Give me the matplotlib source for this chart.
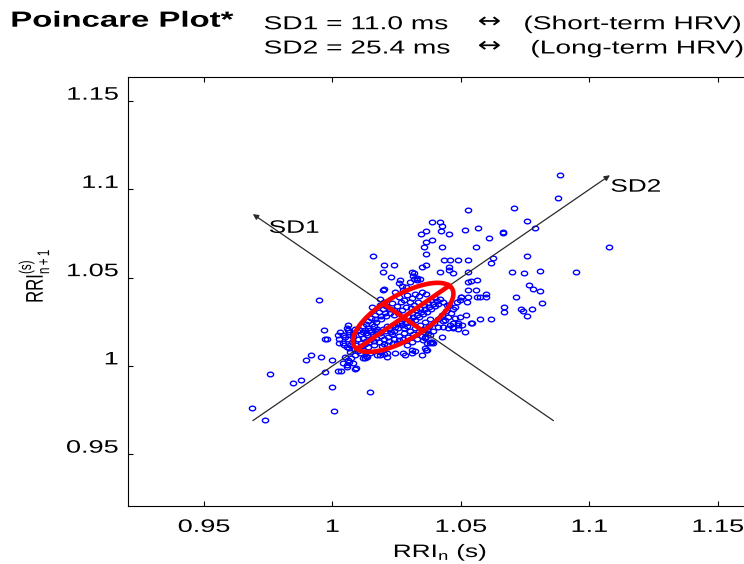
import numpy as np
import matplotlib
matplotlib.use("Agg")
import matplotlib.pyplot as plt
from matplotlib.patheffects import AbstractPathEffect
from matplotlib.transforms import Affine2D
from matplotlib.path import Path

plt.rcParams['font.family'] = ['Liberation Sans', 'DejaVu Sans']
plt.rcParams['mathtext.default'] = 'regular'

# ---------------- data (RRI_n, RRI_n+1) in seconds ----------------
points_outer = [
    (1.0886, 1.1082), (1.0877, 1.0951), (1.0526, 1.0882), (1.0708, 1.0893), (1.0758, 1.0821),
    (1.0787, 1.0781), (1.0665, 1.0761), (1.0665, 1.0753), (1.0567, 1.0781), (1.0517, 1.0772),
    (1.0609, 1.0723), (1.0387, 1.0814), (1.0419, 1.0814), (1.0427, 1.0795), (1.0422, 1.0763),
    (1.0455, 1.0746), (1.0363, 1.0763), (1.0345, 1.0746), (1.0387, 1.0712), (1.0363, 1.0700),
    (1.0357, 1.0674), (1.0428, 1.0674), (1.0557, 1.0674), (1.0363, 1.0632), (1.0158, 1.0623),
    (1.0436, 1.0602), (1.0489, 1.0602), (1.0527, 1.0602), (1.0626, 1.0612), (1.0617, 1.0583),
    (1.0758, 1.0623), (1.1077, 1.0672), (1.0948, 1.0532), (1.0698, 1.0532), (1.0746, 1.0525),
    (1.0808, 1.0540), (1.0202, 1.0574), (1.0240, 1.0574), (1.0363, 1.0574), (1.0348, 1.0561),
    (1.0455, 1.0561), (1.0455, 1.0544), (1.0419, 1.0532), (1.0468, 1.0525), (1.0527, 1.0532),
    (1.0195, 1.0532), (1.0317, 1.0525), (1.0310, 1.0532), (1.0314, 1.0512), (1.0229, 1.0504),
    (1.0263, 1.0487), (1.0302, 1.0477), (1.0317, 1.0493), (1.0329, 1.0487), (1.0330, 1.0496),
    (1.0340, 1.0494), (1.0260, 1.0471), (1.0271, 1.0453), (1.0286, 1.0449), (1.0527, 1.0476),
    (1.0540, 1.0483), (1.0766, 1.0460), (1.0781, 1.0438), (1.0809, 1.0425), (1.0527, 1.0430),
    (1.0558, 1.0430), (1.0499, 1.0391), (1.0596, 1.0406), (1.0599, 1.0389), (1.0573, 1.0389),
    (1.0502, 1.0389), (1.0716, 1.0391), (1.0817, 1.0355), (1.0778, 1.0323), (1.0734, 1.0323),
    (1.0742, 1.0313), (1.0758, 1.0285), (1.0667, 1.0334), (1.0667, 1.0306), (1.0618, 1.0264),
    (1.0575, 1.0264), (1.0518, 1.0291), (1.0476, 1.0272), (1.0538, 1.0242), (1.0487, 1.0242),
    (1.0468, 1.0223), (1.0490, 1.0208), (1.0515, 1.0193), (1.0425, 1.0162), (1.0365, 1.0092),
    (1.0382, 1.0134), (1.0432, 1.0364), (1.0444, 1.0345), (1.0483, 1.0364), (1.0522, 1.0364),
    (1.0477, 1.0336), (1.0542, 1.0242), (1.0437, 1.0260), (1.0431, 1.0222), (1.0457, 1.0232),
    (1.0470, 1.0242), (1.0489, 1.0232), (1.0503, 1.0232), (1.0451, 1.0213), (1.0470, 1.0213),
    (1.0496, 1.0279), (1.0496, 1.0374), (1.0528, 1.0392), (1.0561, 1.0392), (1.0457, 1.0600),
    (1.0561, 1.0487), (1.0200, 1.0434), (1.0185, 1.0377), (1.0155, 1.0336), (1.0195, 1.0430),
]

points_left = [
    (0.9949, 1.0374), (0.9967, 1.0204), (0.9970, 1.0155), (0.9978, 1.0155), (1.0021, 1.0175),
    (1.0027, 1.0151), (1.0026, 1.0132), (1.0029, 1.0194), (1.0042, 1.0175), (1.0061, 1.0232),
    (1.0055, 1.0213), (1.0061, 1.0204), (1.0042, 1.0128), (0.9918, 1.0062), (0.9957, 1.0053),
    (0.9898, 1.0032), (0.9998, 1.0032), (0.9969, 0.9964), (0.9757, 0.9953), (0.9878, 0.9920),
    (0.9848, 0.9902), (0.9998, 0.9883), (1.0145, 0.9853), (0.9687, 0.9764), (0.9739, 0.9694),
    (1.0007, 0.9745), (1.0023, 0.9972), (1.0035, 0.9972), (1.0057, 1.0005), (1.0065, 1.0024),
    (1.0087, 0.9983), (1.0119, 1.0043), (1.0131, 1.0057), (1.0185, 1.0062), (1.0201, 1.0066),
    (1.0243, 1.0075), (1.0282, 1.0064), (1.0310, 1.0071), (1.0321, 1.0083), (1.0055, 1.0109),
    (1.0068, 1.0081), (1.0048, 1.0053), (1.0074, 1.0044), (1.0081, 1.0015), (1.0061, 1.0034),
    (1.0042, 1.0015), (1.0055, 0.9996), (1.0091, 0.9987), (1.0126, 1.0044), (1.0146, 1.0072),
    (1.0087, 1.0062), (1.0107, 1.0072), (1.0133, 1.0053), (1.0172, 1.0062), (1.0211, 1.0053),
    (1.0275, 1.0072), (1.0308, 1.0091), (1.0347, 1.0062), (1.0367, 1.0091), (1.0386, 1.0138),
    (1.0360, 1.0157), (1.0360, 1.0100), (1.0367, 1.0132), (1.0353, 1.0147), (1.0379, 1.0132),
    (1.0392, 1.0132), (1.0360, 1.0166), (1.0379, 1.0175), (1.0367, 1.0204), (1.0184, 1.0081),
    (1.0211, 1.0072),
]

points_core = [
    (1.0095, 1.0195), (1.0110, 1.0180), (1.0080, 1.0165), (1.0100, 1.0150), (1.0120, 1.0160),
    (1.0135, 1.0175), (1.0150, 1.0190), (1.0125, 1.0205), (1.0140, 1.0215), (1.0160, 1.0225),
    (1.0175, 1.0210), (1.0165, 1.0195), (1.0185, 1.0185), (1.0190, 1.0170), (1.0170, 1.0160),
    (1.0150, 1.0150), (1.0130, 1.0140), (1.0110, 1.0130), (1.0090, 1.0120), (1.0075, 1.0135),
    (1.0060, 1.0150), (1.0050, 1.0165), (1.0045, 1.0120), (1.0065, 1.0100), (1.0085, 1.0095),
    (1.0100, 1.0085), (1.0120, 1.0090), (1.0140, 1.0105), (1.0160, 1.0120), (1.0180, 1.0135),
    (1.0200, 1.0150), (1.0215, 1.0165), (1.0230, 1.0180), (1.0205, 1.0195), (1.0220, 1.0210),
    (1.0240, 1.0200), (1.0255, 1.0215), (1.0235, 1.0230), (1.0250, 1.0240), (1.0270, 1.0230),
    (1.0285, 1.0245), (1.0265, 1.0255), (1.0280, 1.0265), (1.0300, 1.0260), (1.0315, 1.0275),
    (1.0295, 1.0285), (1.0310, 1.0300), (1.0330, 1.0290), (1.0345, 1.0305), (1.0325, 1.0315),
    (1.0340, 1.0325), (1.0360, 1.0320), (1.0375, 1.0335), (1.0355, 1.0345), (1.0370, 1.0355),
    (1.0390, 1.0350), (1.0405, 1.0365), (1.0385, 1.0375), (1.0400, 1.0385), (1.0420, 1.0380),
    (1.0150, 1.0270), (1.0165, 1.0290), (1.0180, 1.0305), (1.0195, 1.0320), (1.0170, 1.0250),
    (1.0190, 1.0265), (1.0210, 1.0280), (1.0225, 1.0300), (1.0240, 1.0315), (1.0210, 1.0340),
    (1.0230, 1.0355), (1.0250, 1.0340), (1.0265, 1.0360), (1.0280, 1.0375), (1.0260, 1.0390),
    (1.0290, 1.0400), (1.0310, 1.0385), (1.0300, 1.0360), (1.0320, 1.0410), (1.0335, 1.0395),
    (1.0350, 1.0420), (1.0365, 1.0405), (1.0245, 1.0420), (1.0275, 1.0430), (1.0200, 1.0360),
    (1.0185, 1.0345), (1.0130, 1.0240), (1.0140, 1.0255), (1.0120, 1.0225), (1.0155, 1.0240),
    (1.0200, 1.0125), (1.0220, 1.0140), (1.0240, 1.0155), (1.0260, 1.0170), (1.0280, 1.0185),
    (1.0300, 1.0200), (1.0320, 1.0215), (1.0340, 1.0230), (1.0360, 1.0250), (1.0380, 1.0265),
    (1.0250, 1.0130), (1.0275, 1.0150), (1.0295, 1.0165), (1.0315, 1.0180), (1.0335, 1.0195),
    (1.0355, 1.0210), (1.0375, 1.0225), (1.0395, 1.0245), (1.0410, 1.0265), (1.0425, 1.0290),
    (1.0440, 1.0310), (1.0430, 1.0255), (1.0450, 1.0275), (1.0460, 1.0300), (1.0470, 1.0325),
    (1.0455, 1.0345), (1.0290, 1.0120), (1.0310, 1.0135), (1.0330, 1.0150), (1.0350, 1.0170),
    (1.0370, 1.0185), (1.0390, 1.0200), (1.0410, 1.0220),
    (1.0105, 1.0205), (1.0118, 1.0192), (1.0132, 1.0188), (1.0146, 1.0202), (1.0158, 1.0178),
    (1.0178, 1.0196), (1.0196, 1.0208), (1.0212, 1.0226), (1.0226, 1.0192), (1.0244, 1.0218),
    (1.0262, 1.0242), (1.0278, 1.0212), (1.0292, 1.0228), (1.0306, 1.0248), (1.0322, 1.0262),
    (1.0338, 1.0278), (1.0352, 1.0292), (1.0366, 1.0308), (1.0382, 1.0322), (1.0398, 1.0338),
    (1.0412, 1.0352), (1.0166, 1.0268), (1.0188, 1.0284), (1.0204, 1.0302), (1.0222, 1.0322),
    (1.0238, 1.0288), (1.0256, 1.0302), (1.0272, 1.0318), (1.0288, 1.0336), (1.0304, 1.0328),
    (1.0318, 1.0346), (1.0334, 1.0362), (1.0112, 1.0112), (1.0128, 1.0124), (1.0144, 1.0134),
    (1.0162, 1.0142), (1.0192, 1.0112), (1.0214, 1.0118), (1.0236, 1.0132), (1.0258, 1.0148),
    (1.0078, 1.0182), (1.0066, 1.0192), (1.0088, 1.0208), (1.0070, 1.0118), (1.0098, 1.0104),
]

# Poincare descriptors (s)
sd1 = 0.0110
sd2 = 0.0254
center = (1.0275, 1.0275)
# axis lines (identity line = SD2 direction, perpendicular = SD1 direction)
sd2_line_x = [0.969, 1.108]
sd2_line_y = [0.969, 1.108]
sd1_line_x = [1.086, 0.969]
sd1_line_y = [0.969, 1.086]

xticks = [0.95, 1.0, 1.05, 1.1, 1.15]
xtick_labels = ['0.95', '1', '1.05', '1.1', '1.15']
yticks = [0.95, 1.0, 1.05, 1.1, 1.15]
ytick_labels = ['0.95', '1', '1.05', '1.1', '1.15']
xlim = (0.9204, 1.1635)
ylim = (0.9208, 1.1635)


# horizontal stretch of glyphs (the reference image is stretched sideways)
class Stretch(AbstractPathEffect):
    def __init__(self, sx=1.5, sy=1.0, anchor=0.0, dy=0.0):
        super().__init__()
        self.sx, self.sy, self.anchor, self.dy = sx, sy, anchor, dy

    def draw_path(self, renderer, gc, tpath, affine, rgbFace=None):
        try:
            ext = tpath.get_extents()
            x0 = ext.x0 + self.anchor * ext.width
        except Exception:
            x0 = 0.0
        t = (Affine2D().translate(-x0, 0).scale(self.sx, self.sy).translate(x0, 0)
             + affine + Affine2D().translate(0, self.dy))
        renderer.draw_path(gc, tpath, t, rgbFace)


W, H = 744, 564
fig = plt.figure(figsize=(W / 100, H / 100), dpi=100)
ax = fig.add_axes([128 / W, (H - 505.7) / H, (752.5 - 128) / W, (505.7 - 77.3) / H])

pts = np.array(points_outer + points_left + points_core)
tt = np.linspace(0, 2 * np.pi, 40)
marker_path = Path(np.c_[1.35 * np.cos(tt), np.sin(tt)], closed=True)
ax.plot(pts[:, 0], pts[:, 1], linestyle='none', marker=marker_path, ms=4.5,
        mfc='none', mec='#0000ff', mew=1.0, zorder=2)

line_kw = dict(arrowstyle='-|>', color='#2a2a2a', lw=0.9, mutation_scale=8,
               shrinkA=0, shrinkB=0)
ax.annotate('', xy=(sd2_line_x[1], sd2_line_y[1]), xytext=(sd2_line_x[0], sd2_line_y[0]),
            arrowprops=line_kw, zorder=2.5)
ax.annotate('', xy=(sd1_line_x[1], sd1_line_y[1]), xytext=(sd1_line_x[0], sd1_line_y[0]),
            arrowprops=line_kw, zorder=2.5)

# SD ellipse and its axes
cx, cy = center
th = np.linspace(0, 2 * np.pi, 300)
r2 = np.sqrt(0.5)
ex = cx + (sd2 * np.cos(th) - sd1 * np.sin(th)) * r2
ey = cy + (sd2 * np.cos(th) + sd1 * np.sin(th)) * r2
ax.plot(ex, ey, color='#ff0000', lw=3.3, zorder=3)
ax.plot([cx - sd2 * r2, cx + sd2 * r2], [cy - sd2 * r2, cy + sd2 * r2],
        color='#ff0000', lw=3.3, zorder=3, solid_capstyle='butt')
ax.plot([cx + sd1 * r2, cx - sd1 * r2], [cy - sd1 * r2, cy + sd1 * r2],
        color='#ff0000', lw=3.3, zorder=3, solid_capstyle='butt')

ax.text(0.9753, 1.0754, 'SD1', fontsize=13, ha='left', va='baseline',
        path_effects=[Stretch(1.45)], zorder=4)
ax.text(1.1083, 1.0987, 'SD2', fontsize=13, ha='left', va='baseline',
        path_effects=[Stretch(1.45)], zorder=4)

ax.set_xlim(*xlim)
ax.set_ylim(*ylim)
ax.set_xticks(xticks)
ax.set_xticklabels(xtick_labels)
ax.set_yticks(yticks)
ax.set_yticklabels(ytick_labels)
ax.tick_params(direction='in', top=True, right=True, length=3.6, width=0.8,
               labelsize=13, colors='black')
ax.tick_params(axis='x', pad=9.5)
ax.tick_params(axis='y', pad=7)
for s in ax.spines.values():
    s.set_linewidth(0.8)

ax.set_xlabel('RRI$_{n}$ (s)', fontsize=13)
ax.xaxis.set_label_coords(0.5, -0.085)
ax.set_ylabel('RRI$_{n+1}^{(s)}$', fontsize=12)
ax.yaxis.set_label_coords(-0.125, 0.537)
ax.xaxis.label.set_path_effects([Stretch(1.45, anchor=0.5)])
ax.yaxis.label.set_path_effects([Stretch(1.0, 1.45)])

fig.canvas.draw()
for lab in ax.get_xticklabels():
    lab.set_path_effects([Stretch(1.5, anchor=0.5)])
for lab in ax.get_yticklabels():
    lab.set_path_effects([Stretch(1.5, anchor=1.0, dy=8)])

# header
fig.text(11 / W, 1 - 26.7 / H, 'Poincare Plot*', fontsize=15.8, fontweight='bold',
         ha='left', va='baseline', path_effects=[Stretch(1.5)])
hdr = dict(fontsize=13.5, ha='left', va='baseline', path_effects=[Stretch(1.5)])
arrow_kw = dict(fontsize=15, ha='left', va='baseline', family=['DejaVu Sans'],
                path_effects=[Stretch(1.35)])
fig.text(264 / W, 1 - 29.2 / H, 'SD1 = 11.0 ms', **hdr)
fig.text(478 / W, 1 - 27.5 / H, '\u2194', **arrow_kw)
fig.text(524 / W, 1 - 29.2 / H, '(Short-term HRV)', **hdr)
fig.text(264 / W, 1 - 53.5 / H, 'SD2 = 25.4 ms', **hdr)
fig.text(478 / W, 1 - 51.8 / H, '\u2194', **arrow_kw)
fig.text(531 / W, 1 - 53.5 / H, '(Long-term HRV)', **hdr)

fig.savefig('out.png', dpi=100)
